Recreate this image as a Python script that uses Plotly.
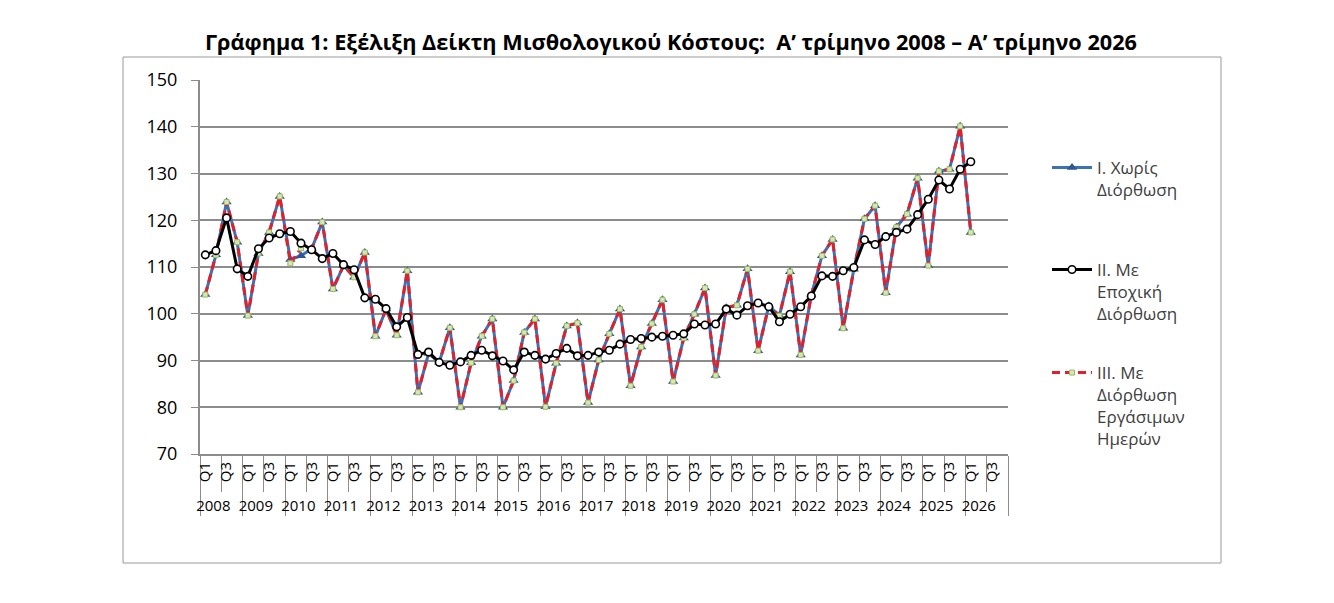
import plotly.graph_objects as go

# ---------------- data ----------------
years = [str(y) for y in range(2008, 2027)]
quarter_labels = ["Q1", " ", "Q3", "  "]

# I. Unadjusted
series_I = [104.1, 112.6, 123.9, 115.3,
            99.6, 112.9, 117.4, 125.1,
            111.6, 112.4, 113.9, 119.6,
            105.3, 110.3, 107.8, 113.1,
            95.2, 101.0, 95.4, 109.2,
            83.2, 91.5, 89.6, 97.0,
            80.0, 89.5, 95.2, 98.9,
            80.0, 85.7, 96.0, 98.9,
            80.1, 89.4, 97.4, 98.0,
            81.0, 90.1, 95.7, 101.0,
            84.6, 92.9, 97.9, 103.0,
            85.5, 94.8, 99.9, 105.5,
            86.8, 101.3, 101.8, 109.6,
            92.1, 101.7, 99.6, 109.0,
            91.2, 104.0, 112.4, 115.9,
            96.9, 109.5, 120.3, 123.1,
            104.5, 118.5, 121.3, 129.0,
            110.3, 130.5, 130.9, 140.1,
            117.4]

# II. Seasonally adjusted
series_II = [112.6, 113.5, 120.5, 109.6,
             108.0, 113.9, 116.2, 117.1,
             117.6, 115.1, 113.7, 111.8,
             112.9, 110.5, 109.4, 103.4,
             103.1, 101.1, 97.2, 99.2,
             91.3, 91.8, 89.6, 89.0,
             89.7, 91.1, 92.2, 91.0,
             89.9, 88.0, 91.8, 91.1,
             90.3, 91.5, 92.6, 91.0,
             91.1, 91.8, 92.2, 93.5,
             94.5, 94.7, 95.0, 95.2,
             95.4, 95.7, 97.8, 97.6,
             97.8, 101.0, 99.7, 101.7,
             102.3, 101.5, 98.3, 99.9,
             101.5, 103.8, 108.1, 108.0,
             109.2, 109.9, 115.8, 114.8,
             116.5, 117.4, 118.1, 121.2,
             124.5, 128.6, 126.7, 130.9,
             132.5]

# III. Working-day adjusted
series_III = [104.1, 112.6, 123.9, 115.3,
              99.6, 112.9, 117.4, 125.1,
              110.8, 114.0, 113.9, 119.6,
              105.3, 110.3, 107.8, 113.1,
              95.2, 101.0, 95.4, 109.2,
              83.2, 91.5, 89.6, 97.0,
              80.0, 89.5, 95.2, 98.9,
              80.0, 85.7, 96.0, 98.9,
              80.1, 89.4, 97.4, 98.0,
              81.0, 90.1, 95.7, 101.0,
              84.6, 92.9, 97.9, 103.0,
              85.5, 94.8, 99.9, 105.5,
              86.8, 101.3, 101.8, 109.6,
              92.1, 101.7, 99.6, 109.0,
              91.2, 104.0, 112.4, 115.9,
              96.9, 109.5, 120.3, 123.1,
              104.5, 118.5, 121.3, 129.0,
              110.3, 130.5, 130.9, 140.1,
              117.4]

names = ["I. Χωρίς<br>Διόρθωση",
         "II. Με<br>Εποχική<br>Διόρθωση",
         "III. Με<br>Διόρθωση<br>Εργάσιμων<br>Ημερών"]

title_text = "Γράφημα 1: Εξέλιξη Δείκτη Μισθολογικού Κόστους:  Α’ τρίμηνο 2008 – Α’ τρίμηνο 2026"

# ---------------- build ----------------
x_outer = [y for y in years for _ in quarter_labels]
x_inner = [q for _ in years for q in quarter_labels]
n_cat = len(x_outer)


def pad(v):
    return v + [None] * (n_cat - len(v))


FONT = "Open Sans"
fig = go.Figure()

fig.add_trace(go.Scatter(
    x=[x_outer, x_inner], y=pad(series_I), name=names[0], mode="lines+markers",
    line=dict(color="#3A72B8", width=3),
    marker=dict(symbol="triangle-up", size=9, color="#2F5597"),
    legend="legend", showlegend=True, connectgaps=False))

fig.add_trace(go.Scatter(
    x=[x_outer, x_inner], y=pad(series_III), name=names[2], mode="lines+markers",
    line=dict(color="#E0202B", width=3, dash="8px,5px"),
    marker=dict(symbol="square", size=5, color="#D7E4BD",
                line=dict(color="#9BBB59", width=1)),
    legend="legend3", showlegend=True, connectgaps=False))

fig.add_trace(go.Scatter(
    x=[x_outer, x_inner], y=pad(series_II), name=names[1], mode="lines+markers",
    line=dict(color="#000000", width=3),
    marker=dict(symbol="circle", size=7.5, color="#FFFFFF",
                line=dict(color="#000000", width=1.6)),
    legend="legend2", showlegend=True, connectgaps=False))

PL, PR, PT, PB = 200, 1008, 80, 454
W, H = 1334, 603


def px_x(x):
    return (x - PL) / (PR - PL)


def px_y(y):
    return (PB - y) / (PB - PT)


legend_common = dict(bgcolor="rgba(0,0,0,0)", borderwidth=0,
                     font=dict(family=FONT, size=17, color="#404040"),
                     xanchor="left", yanchor="top", itemwidth=40, valign="top")

fig.update_layout(
    width=W, height=H, showlegend=True,
    margin=dict(l=PL, r=W - PR, t=PT, b=H - PB),
    paper_bgcolor="white", plot_bgcolor="white",
    title=dict(text="<b>" + title_text + "</b>", x=0.503, xanchor="center",
               y=1 - 42 / H, yanchor="middle",
               font=dict(family=FONT, size=21.7, color="#000000")),
    xaxis=dict(type="multicategory", range=[-0.5, n_cat - 0.5],
               showgrid=False, showline=True, linecolor="#8C8C8C", linewidth=2,
               ticks="outside", tickson="boundaries", ticklen=36, tickcolor="#8C8C8C",
               tickangle=-90, tickfont=dict(family=FONT, size=15, color="#000000"),
               showdividers=True, dividercolor="#8C8C8C", dividerwidth=1),
    yaxis=dict(range=[70, 150], dtick=10, showgrid=True, gridcolor="#8C8C8C", gridwidth=2,
               showline=True, linecolor="#8C8C8C", linewidth=2, ticks="outside",
               ticklen=7, tickcolor="#8C8C8C", zeroline=False, ticklabelstandoff=10,
               tickfont=dict(family=FONT, size=18, color="#000000")),
    legend=dict(x=px_x(1047), y=px_y(150), **legend_common),
    legend2=dict(x=px_x(1047), y=px_y(252), **legend_common),
    legend3=dict(x=px_x(1047), y=px_y(355), **legend_common),
    shapes=[dict(type="rect", xref="paper", yref="paper",
                 x0=px_x(123), x1=px_x(1221), y0=px_y(563), y1=px_y(57),
                 line=dict(color="#9A9A9A", width=1), layer="below")],
)

fig.write_html("out.html")
